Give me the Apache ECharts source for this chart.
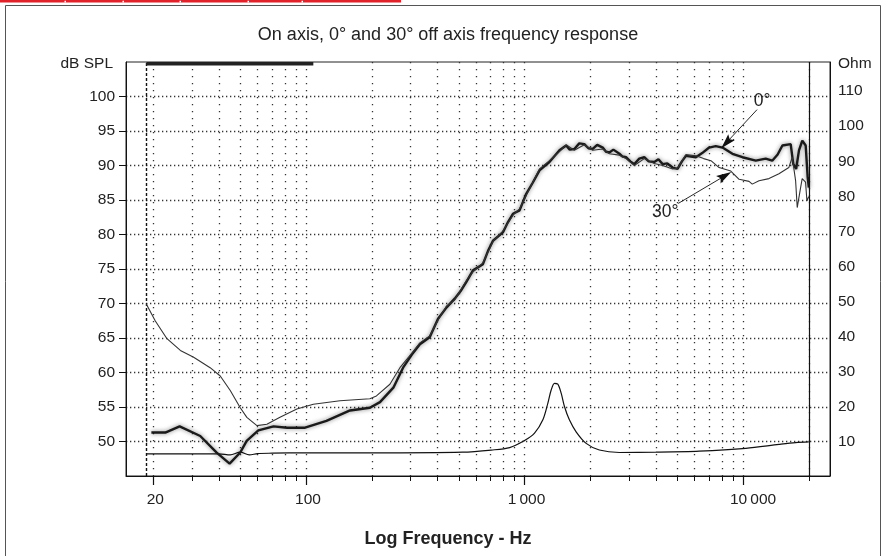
<!DOCTYPE html>
<html>
<head>
<meta charset="utf-8">
<script src="https://cdn.jsdelivr.net/npm/echarts@6/dist/echarts.min.js"></script>
<style>
  html, body { margin: 0; padding: 0; background: #fff; }
  #chart { width: 882px; height: 556px; }
</style>
</head>
<body>
<div id="chart"></div>
<script>
  const font = "'Liberation Sans', Arial, Helvetica, sans-serif"

  // 0° on axis SPL (Hz / dB)
  const freq0 = [19.6, 22.7, 26.4, 32.8, 39, 44.7, 50, 53.5, 60.5, 71, 82, 99, 124, 159, 196, 218, 251, 278, 305, 332,
    368, 402, 439, 479, 510, 541, 581, 645, 680, 717, 796, 840, 885, 949, 1018, 1090, 1171, 1300, 1445, 1550,
    1610, 1690, 1780, 1878, 1960, 2052, 2150, 2280, 2360, 2445, 2550, 2718, 2810, 2914, 3050, 3180, 3350, 3532, 3700, 3925,
    4100, 4285, 4500, 4761, 5015, 5250, 5477, 6084, 6500, 6997, 7500, 8055, 8940, 9937, 11430, 12700, 13600, 14400, 15140, 16520,
    16980, 17500, 18030, 18670, 19350, 19760, 20000]
  const spl0 = [51.3, 51.3, 52.2, 50.8, 48.4, 46.8, 48.4, 50.1, 51.6, 52.2, 52.0, 52.0, 53.0, 54.5, 54.9, 55.7, 57.8, 60.7, 62.6, 64.1,
    65.1, 67.8, 69.4, 70.7, 71.8, 73.1, 74.8, 75.7, 77.6, 79.1, 80.3, 81.8, 83.0, 83.5, 85.9, 87.5, 89.3, 90.5, 92.2, 92.9,
    92.3, 92.4, 93.2, 93.1, 92.5, 92.4, 93.0, 92.6, 92.0, 91.9, 92.3, 91.7, 91.3, 91.2, 90.6, 90.2, 91.0, 91.2, 90.6, 90.5,
    90.9, 90.2, 90.3, 89.7, 89.5, 90.6, 91.4, 91.2, 91.8, 92.6, 92.8, 92.6, 91.7, 91.2, 90.7, 91.0, 90.7, 91.6, 92.9, 93.1,
    90.2, 89.5, 92.2, 93.6, 92.9, 88.3, 86.8]

  // 30° off axis SPL (Hz / dB)
  const freq30 = [18.6, 20.4, 23.1, 26.6, 30.6, 36.4, 40.5, 45, 50, 53.6, 59.6, 66.2, 76, 90.8, 108, 143, 196, 210, 242, 269,
    305, 332, 368, 402, 439, 479, 541, 581, 645, 717, 796, 885, 949, 1018, 1171, 1300, 1445, 1550, 1690, 1878,
    2052, 2280, 2445, 2718, 2914, 3180, 3532, 3925, 4285, 4761, 5015, 5477, 6100, 6600, 7130, 7770, 8790, 9594, 10650, 11020,
    11830, 13140, 14600, 16200, 16790, 17400, 17700, 18340, 18650, 19320, 19600, 20000]
  const spl30 = [69.9, 67.5, 64.9, 63.2, 62.2, 60.7, 59.5, 57.4, 54.9, 53.5, 52.3, 52.5, 53.5, 54.7, 55.4, 55.9, 56.2, 56.6, 58.3, 60.7,
    62.8, 64.3, 65.3, 67.6, 69.6, 70.5, 73.3, 74.6, 75.9, 79.0, 80.5, 82.8, 83.7, 85.7, 89.5, 90.7, 92.0, 93.0, 92.2, 93.0,
    92.2, 92.4, 91.7, 91.5, 91.0, 90.0, 91.0, 90.3, 90.0, 89.5, 89.6, 91.6, 91.4, 91.0, 90.7, 89.7, 89.2, 88.0, 87.7, 87.3,
    87.8, 88.1, 88.8, 89.7, 91.2, 87.8, 83.9, 86.8, 88.1, 87.6, 84.9, 85.5]

  // impedance (Hz / Ohm)
  const freqImp = [18.6, 30, 40, 45, 50, 55, 60, 70, 100, 200, 521, 705, 855, 1000, 1111, 1213, 1278, 1324, 1371, 1420,
    1471, 1523, 1604, 1722, 1914, 2200, 2717, 3990, 6300, 10300, 14600, 17400, 20000]
  const impedance = [6.6, 6.6, 6.6, 6.3, 7.1, 6.3, 6.7, 6.8, 6.9, 6.9, 7.1, 7.7, 8.4, 10.4, 12.5, 16.3, 21.0, 24.8, 26.7, 26.5,
    23.9, 20.1, 16.3, 12.9, 9.6, 7.7, 7.0, 7.1, 7.4, 8.2, 9.3, 9.8, 10.0]

  // axis ticks
  const gridFreqs = [20, 30, 40, 50, 60, 70, 80, 90, 100, 200, 300, 400, 500, 600, 700, 800, 900,
    1000, 2000, 3000, 4000, 5000, 6000, 7000, 8000, 9000, 10000, 20000]
  const labelFreqs = [20, 100, 1000, 10000]
  const splLevels = [50, 55, 60, 65, 70, 75, 80, 85, 90, 95, 100]
  const ohmLevels = [10, 20, 30, 40, 50, 60, 70, 80, 90, 100, 110]

  // measurement range markers and annotations
  const startFreq = 18.6
  const endFreq = 20000
  const barFreq = [18.6, 108]
  const barLevel = [104.75, 104.75]
  const arrow0 = [[11590, 98.1], [8390, 93.3]]
  const arrow30 = [[5050, 84.5], [8250, 88.5]]
  const label0 = [12220, 99.3]
  const label30 = [4402, 83.2]

  const pairs = (xs, ys) => xs.map((x, i) => [x, ys[i]])

  const fmtFreq = v => {
    if (v >= 10000) return '{w|10\u2009000}'
    if (v >= 1000) return '1\u2009000'
    return String(v)
  }

  const chart = echarts.init(document.getElementById('chart'))

  chart.setOption({
    animation: false,
    textStyle: { fontFamily: font },
    grid: [
      { left: 126, right: 52, top: 62, bottom: 80, show: true, borderColor: '#222', borderWidth: 1, outerBoundsMode: 'none' },
      { left: 126, right: 52, top: 62, bottom: 80, outerBoundsMode: 'none' }
    ],
    xAxis: [{
      type: 'log',
      gridIndex: 0,
      logBase: 10,
      min: 15,
      max: 25000,
      axisLine: { show: true, lineStyle: { color: '#111', width: 1 } },
      axisTick: { show: true, length: 5, customValues: gridFreqs, lineStyle: { color: '#111', width: 1 } },
      axisLabel: { show: false },
      splitLine: { show: true, lineStyle: { color: '#333', width: 1.3, type: [1.3, 5.7] } }
    }, {
      type: 'log',
      gridIndex: 1,
      logBase: 10,
      min: 15,
      max: 25000,
      axisLine: { show: false },
      axisTick: { show: true, length: 9, customValues: labelFreqs, lineStyle: { color: '#111', width: 1.2 } },
      axisLabel: {
        customValues: labelFreqs,
        margin: 16,
        fontSize: 15.5,
        color: '#222',
        padding: [0, 0, 0, 4],
        formatter: fmtFreq,
        rich: { w: { padding: [0, 0, 0, 16], fontSize: 15.5, color: '#222' } }
      },
      splitLine: { show: false }
    }],
    yAxis: [{
      type: 'value',
      gridIndex: 0,
      min: 45,
      max: 105,
      interval: 5,
      name: 'dB SPL',
      nameLocation: 'end',
      nameGap: -2,
      nameTextStyle: { fontSize: 15.5, color: '#222', align: 'right', verticalAlign: 'middle', padding: [0, 13, 0, 0] },
      axisLine: { show: true, lineStyle: { color: '#111' } },
      axisTick: { show: true, length: 7, customValues: splLevels, lineStyle: { color: '#111' } },
      axisLabel: { customValues: splLevels, margin: 11, fontSize: 15.5, color: '#222' },
      splitLine: { show: true, lineStyle: { color: '#333', width: 1.3, type: [1.3, 2.7] } }
    }, {
      type: 'value',
      gridIndex: 0,
      position: 'right',
      min: 0.3,
      max: 118.3,
      name: 'Ohm',
      nameLocation: 'end',
      nameGap: -2,
      nameTextStyle: { fontSize: 15.5, color: '#222', align: 'left', verticalAlign: 'middle', padding: [0, 0, 0, 8] },
      axisLine: { show: true, lineStyle: { color: '#111' } },
      axisTick: { show: false },
      axisLabel: { customValues: ohmLevels, margin: 8, fontSize: 15.5, color: '#222' },
      splitLine: { show: false }
    }, {
      type: 'value',
      gridIndex: 1,
      show: false,
      min: 0,
      max: 1
    }],
    series: [{
      name: 'Impedance',
      type: 'line',
      xAxisIndex: 0,
      yAxisIndex: 1,
      data: pairs(freqImp, impedance),
      symbol: 'none',
      smooth: 0.3,
      lineStyle: { color: '#111', width: 1.2 },
      z: 3
    }, {
      name: '0°',
      type: 'line',
      xAxisIndex: 0,
      yAxisIndex: 0,
      data: pairs(freq0, spl0),
      symbol: 'none',
      lineStyle: { color: '#1a1a1a', width: 2.4, shadowColor: 'rgba(0,0,0,0.5)', shadowBlur: 4 },
      z: 4,
      markLine: {
        silent: true,
        symbol: ['none', 'path://M5,0L10,17L5,14L0,17Z'],
        symbolSize: 15,
        symbolKeepAspect: true,
        label: { show: false },
        itemStyle: { color: '#111' },
        lineStyle: { color: '#111', width: 0.9, type: 'solid' },
        data: [
          [{ coord: arrow0[0] }, { coord: arrow0[1] }],
          [{ coord: arrow30[0] }, { coord: arrow30[1] }]
        ]
      },
      markPoint: {
        silent: true,
        symbol: 'rect',
        symbolSize: 1,
        itemStyle: { color: 'transparent' },
        label: { show: true, position: 'inside', fontSize: 17.5, color: '#222', formatter: p => p.name },
        data: [
          { name: '0°', coord: label0 },
          { name: '30°', coord: label30 }
        ]
      }
    }, {
      name: '30°',
      type: 'line',
      xAxisIndex: 0,
      yAxisIndex: 0,
      data: pairs(freq30, spl30),
      symbol: 'none',
      lineStyle: { color: '#333', width: 1.1 },
      z: 5
    }, {
      name: 'range',
      type: 'line',
      xAxisIndex: 0,
      yAxisIndex: 0,
      data: pairs(barFreq, barLevel),
      symbol: 'none',
      lineStyle: { color: '#222', width: 3.5 },
      z: 5,
      markLine: {
        silent: true,
        symbol: ['none', 'none'],
        label: { show: false },
        data: [
          { xAxis: startFreq, lineStyle: { color: '#111', width: 1.4, type: [3, 2] } },
          { xAxis: endFreq, lineStyle: { color: '#111', width: 1.2, type: 'solid' } }
        ]
      }
    }],
    graphic: [
      { type: 'rect', silent: true, z: -1, shape: { x: 5.5, y: 5.5, width: 875, height: 560 }, style: { fill: null, stroke: '#555', lineWidth: 1 } },
      { type: 'rect', silent: true, shape: { x: 0, y: 0, width: 401, height: 2.5 }, style: { fill: '#e2222b' } },
      { type: 'rect', silent: true, shape: { x: 64.5, y: 0.8, width: 1.5, height: 1.7 }, style: { fill: '#fff' } },
      { type: 'rect', silent: true, shape: { x: 122.5, y: 0.8, width: 1.5, height: 1.7 }, style: { fill: '#fff' } },
      { type: 'rect', silent: true, shape: { x: 179.5, y: 0.8, width: 1.5, height: 1.7 }, style: { fill: '#fff' } },
      { type: 'rect', silent: true, shape: { x: 247.5, y: 0.8, width: 1.5, height: 1.7 }, style: { fill: '#fff' } },
      { type: 'rect', silent: true, shape: { x: 301.5, y: 0.8, width: 1.5, height: 1.7 }, style: { fill: '#fff' } },
      {
        type: 'text', silent: true, x: 448, y: 35.5,
        style: { text: 'On axis, 0° and 30° off axis frequency response', fontSize: 18, fontFamily: font, fill: '#222', align: 'center', verticalAlign: 'middle' }
      },
      {
        type: 'text', silent: true, x: 448, y: 539,
        style: { text: 'Log Frequency - Hz', fontSize: 18, fontWeight: 'bold', fontFamily: font, fill: '#222', align: 'center', verticalAlign: 'middle' }
      }
    ]
  })
</script>
</body>
</html>
